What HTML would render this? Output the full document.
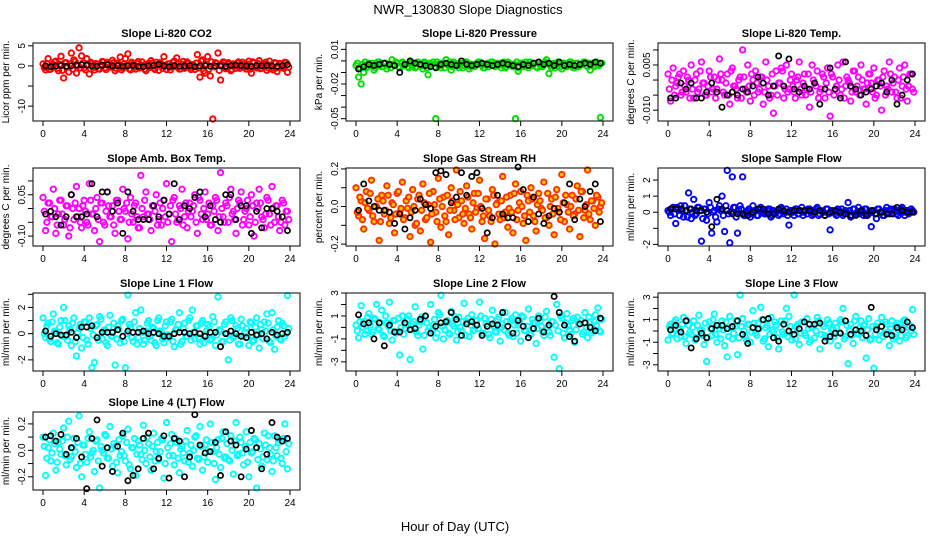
<!DOCTYPE html>
<html><head><meta charset="utf-8"><style>
body{margin:0;background:#fff}
svg{display:block;font-family:"Liberation Sans",sans-serif}
</style></head><body>
<svg id="chart" width="936" height="540" viewBox="0 0 936 540" xmlns="http://www.w3.org/2000/svg">
<text x="468" y="14" text-anchor="middle" font-size="13">NWR_130830  Slope Diagnostics</text>
<text x="455" y="531" text-anchor="middle" font-size="13">Hour of Day (UTC)</text>
</svg>
<script>
const hourTicks=[0,4,8,12,16,20,24];
const co2Raw=[0.5,-1,1.8,-0.8,0.3,1.2,-1.2,2.4,-3,0.8,-1.5,3.2,1.5,-1.8,4.5,2.5,-0.5,1.8,-2,0.6,-1,0.4,-0.8,1.1,-0.5,0.9,-0.3,1.4,-1.2,0.7,2.2,-0.6,1.8,3,-1,0.5,-0.8,1.1,-0.4,0.2,-1.2,0.6,1.3,-0.5,0.9,-1.1,0.4,2.3,-0.9,0.5,-0.3,1.2,2,-0.8,0.4,-0.6,1.0,-0.4,0.3,-0.9,2.8,-2.8,1.5,-1.8,2.3,-2.5,-13.2,0.8,3.2,-3.5,1.0,-0.7,0.8,-1.2,0.5,-0.6,1.0,-0.4,0.4,-0.8,1.2,-1.8,0.8,-0.5,1.3,-0.6,0.4,-1.1,1.2,-0.5,0.8,-1.4,0.6,-0.3,0.9,-1.6];
const co2Core=[-0.4,0.6,-0.9,0.2,1.0,-0.6,0.4,-1.1,0.8,-0.3,0.5,-0.8,1.1,0.1,-0.5,0.7,-1.0,0.3,0.9,-0.4,0.6,-0.7,0.2,1.0,-0.9,0.4,-0.2,0.8,-0.6,0.3,-1.0,0.5,0.1,-0.7,0.9,-0.3,0.6,-0.5,1.0,-0.8,0.2,-0.4,0.7,-0.9,0.3,0.8,-0.6,0.1,0.5,-1.0,0.9,-0.2,0.4,-0.7,1.1,-0.3,0.6,-0.9,0.2,0.7,-0.5,1.2,-1.3,0.4,-0.8,1.0,-0.2,0.6,-1.1,0.3,0.8,-0.4,0.5,-0.9,0.1,0.7,-0.6,0.9,-0.3,0.4,-0.8,1.0,-0.2,0.6,-0.7,0.3,0.9,-0.5,0.2,-1.0,0.7,-0.4,0.5,-0.6,0.8,-0.3];
const co2Avg=[0,-0.2,0,0.1,-0.1,0,0.2,0.3,0.2,0,-0.1,0.2,0.3,0,0.1,-0.1,0,0.1,-0.1,-0.2,0,0.1,0.4,0,-0.2,0.1,-0.1,0,0.1,-0.2,0,0.1,-0.1,0,0,-0.1,0.1,0.2,0.1,0,-0.1,0.1,0,0.1,0,-0.1,0.1,0.3];
const presRaw=[-4,-14,-20,-10,-6,-2,-4,-8,-3,-1,-5,-2,-7,-3,1,-4,-2,-6,-1,-3,-5,-2,-4,-6,-1,-3,-7,-2,-12,-4,-1,-50,-3,-6,-2,1,-4,-8,-1,-3,-6,-2,-4,-1,-7,-3,-5,-2,-1,-4,-6,-2,-3,-1,-5,-3,-2,-4,-6,-1,-3,-5,-50,-9,-2,-4,-1,-6,-3,-2,-5,-1,-4,-3,1,-11,-6,-2,-4,-3,-7,-2,-5,-1,-3,-6,-2,-4,-3,-1,-5,-8,-2,-4,-3,-49];
const presCore=[-2,-6,-3,-1,-5,-4,-2,-6,-1,-3,-5,-2,-4,-6,-3,-1,-5,-2,-4,-3,-6,-1,-2,-5,-3,-4,-1,-6,-2,-3,-5,-1,-4,-2,-6,-3,-1,-5,-2,-4,-3,-6,-1,-2,-5,-3,-4,-1,-2,-6,-3,-5,-1,-4,-2,-3,-6,-1,-5,-2,-4,-3,-1,-6,-2,-5,-3,-1,-4,-2,-6,-3,-5,-1,-2,-4,-3,-6,-1,-5,-2,-3,-4,-1,-6,-2,-5,-3,-1,-4,-2,-3,-5,-1,-4,-2];
const presAvg=[-7,-5,-3,-4,-3,-2,-3,-4,-10,-3,0,-2,-3,-4,-5,-6,-3,-2,-3,-4,0,-3,-4,-3,-2,-3,-4,-3,-2,-3,-4,-5,-3,-4,-2,-1,-3,-2,-4,-1,-4,-3,-4,-3,-2,-3,-1,-2];
const tempRaw=[2,-7,4,-2,1,-5,3,-4,0,5,-6,2,-3,6,-1,-5,3,-4,1,-3,7,0,-5,2,-8,4,-2,-6,1,10,-3,5,-7,0,3,-4,1,-8,6,-2,-5,-11,3,-1,4,-6,5,-3,2,-4,0,6,-5,2,-3,-9,5,-1,3,-4,2,-6,4,-12,1,-3,5,-5,6,-2,0,-7,3,-4,1,5,-3,-8,2,-1,4,-5,0,-10,3,-2,6,-4,1,-6,4,-2,5,-7,2,-3];
const tempCore=[-3,0,-5,-1,2,-4,-2,1,-6,-3,0,-4,3,-1,-5,-2,1,-3,-6,0,2,-4,-1,-5,3,-2,-3,0,-6,1,-4,-2,2,-5,-1,-3,1,-4,0,-6,2,-2,-5,-1,3,-3,-4,0,-2,-6,1,-3,-1,-5,2,-4,0,-2,-6,-3,1,-1,-4,2,-5,-2,0,-3,-6,1,-1,-4,3,-2,-5,0,-3,-1,2,-4,-6,0,-2,1,-5,-3,2,-1,-4,0,-6,1,-3,-2,2,-4];
const tempAvg=[-6,-6,-1,-3,-1,-6,-6,-4,-1,-4,-9,-5,-4,-5,-3,-4,-2,1,-1,-5,-2,8,-2,7,-3,-4,-2,-3,-1,-8,-3,4,-3,-6,6,-2,-3,-5,-4,-3,-2,-1,-4,0,-8,-5,0,2];
const ambRaw=[4,-8,2,-3,7,-9,-2,3,-6,1,-10,5,-4,8,0,-7,3,-5,9,-2,-8,4,-12,2,-6,6,-3,1,-9,3,-4,7,-1,-11,4,-5,2,-7,12,-3,6,-2,-8,1,5,-4,-6,3,9,-2,-12,4,-5,1,7,-3,-7,2,-1,5,-9,3,-4,6,-2,-6,1,4,-8,13,-3,2,-5,7,-1,-9,3,6,-4,0,-6,5,-10,2,7,-3,-7,4,-2,8,-5,1,-8,3,-6,-1];
const ambCore=[-1,-5,2,-3,0,-6,3,-2,-4,1,-7,0,2,-3,-5,1,-1,-6,3,-2,0,-4,2,-5,-1,1,-3,-6,3,-1,-4,0,2,-5,-2,1,-3,-7,0,3,-2,-4,1,-1,-6,2,0,-3,-5,1,3,-2,-4,0,-6,2,-1,-3,1,-5,4,-2,0,-4,2,-6,-1,3,-3,0,-5,1,4,-2,-4,0,2,-6,-1,3,-3,1,-5,0,2,-4,-2,3,-6,0,1,-3,-5,2,-1,-4];
const ambAvg=[-2,-1,-3,-6,-3,5,-3,-3,-2,9,-3,6,6,-1,2,-9,6,-1,-4,-4,-4,1,-3,3,-2,9,-4,1,0,4,6,-3,1,-4,-5,5,5,-4,1,1,-9,-1,-7,0,0,-1,-3,-8];
const rhRaw=[10,-5,3,-12,8,-2,14,-8,0,-18,6,-4,11,-9,2,-14,7,-3,13,-6,-1,-16,9,-10,4,-13,12,-7,1,-19,8,-3,15,-11,5,-8,-15,10,-2,20,-6,3,-9,11,-4,-12,7,-1,14,-8,-17,4,-5,9,-20,2,-7,16,-3,-11,6,-14,12,-2,8,-9,-18,3,10,-5,-13,7,-1,13,-6,-10,4,-15,9,-3,17,-8,1,-12,6,-4,11,-16,8,-2,21,-7,3,-10,5,0];
const rhCore=[-3,5,-7,2,-1,7,-5,0,4,-8,3,-2,6,-6,1,-4,8,-1,-7,3,5,-3,0,-9,6,-2,2,-6,7,-4,1,-8,4,0,-5,6,-2,3,-7,1,8,-4,-1,5,-6,2,-3,7,0,-5,4,-2,-8,6,1,-4,3,-6,5,-1,-3,7,-7,2,0,-5,6,-3,4,-8,1,3,-2,-6,7,0,-4,5,-1,-7,2,6,-3,0,-5,4,-2,8,-6,1,-4,3,-1,6,-3,2];
const rhAvg=[-2,12,3,0,-2,-2,-3,-9,-4,-12,-6,-2,4,1,-1,18,19,17,2,5,18,6,16,18,-1,-14,-6,6,-4,-6,-6,21,9,-8,5,-4,-9,-5,-1,-3,2,12,-7,4,0,8,12,-8];
const sampleRaw=[0.1,-0.2,0.3,-0.7,0.2,0.4,-0.3,0.1,1.2,-0.4,0.8,-0.1,0.3,-1.8,0.2,-0.5,0.6,-1.3,0.1,-0.6,0.4,1.0,-1.2,2.6,-1.9,2.2,0.3,-1.3,0.4,2.2,-0.2,0.1,-0.3,0.4,0.1,-0.2,0.3,0.0,-0.1,0.2,-0.3,0.1,0.0,-0.2,0.3,-0.1,0.2,-0.8,0.1,-0.2,0.2,-0.1,0.3,0.0,-0.1,0.2,-0.2,0.1,0.3,-0.1,0.0,-0.2,0.2,-1.1,0.1,-0.1,0.2,0.0,-0.2,0.1,0.6,-0.3,0.2,-0.1,0.3,0.0,-0.2,0.2,-0.1,-0.9,0.1,-0.4,0.2,0.0,-0.2,0.3,-0.1,0.1,0.2,-0.1,0.0,0.3,-0.2,0.1,0.0,0.1];
const sampleCore=[0.0,0.2,-0.1,0.3,-0.2,0.1,0.4,-0.3,0.2,0.0,-0.2,0.3,0.1,-0.4,0.2,-0.1,0.3,0.0,-0.3,0.2,0.1,-0.2,0.4,-0.1,0.0,0.3,-0.3,0.1,0.2,-0.2,0.0,0.2,-0.1,0.1,-0.2,0.2,0.0,-0.1,0.1,0.2,-0.2,0.0,0.1,-0.1,0.2,0.0,-0.2,0.1,0.0,0.2,-0.1,0.1,-0.2,0.1,0.2,0.0,-0.1,0.2,-0.2,0.1,0.0,0.2,-0.1,0.1,0.0,-0.2,0.1,0.2,-0.1,0.0,0.1,-0.2,0.2,0.0,-0.1,0.1,0.2,-0.2,0.0,0.1,-0.1,0.2,0.0,-0.2,0.1,0.0,0.2,-0.1,0.1,-0.2,0.2,0.0,0.1,-0.1,0.2,0.0];
const sampleAvg=[0.2,0.2,0.2,0.1,0.2,0.1,0.1,0,-0.9,0.8,0.2,0.1,-0.1,-0.1,-0.1,-0.2,0,0.2,0.2,-0.1,-0.1,0.2,0.1,0,0.1,0.1,0.1,0.1,0,0.1,-0.2,0,0.1,0,-0.1,-0.2,-0.2,0.1,-0.2,0.1,-0.1,0,-0.1,-0.1,0.3,0.1,0,0];
const line1Raw=[1.2,-0.3,0.8,-0.6,1.5,0.2,-0.8,1.0,2.0,-0.2,0.6,-0.9,1.2,-1.7,0.4,-1.1,0.9,-0.5,1.2,-2.6,-2.2,0.7,1.3,-0.4,0.3,-0.9,1.4,-0.2,-2.4,0.6,-0.7,1.1,-2.6,3.2,0.5,-0.6,1.6,-0.3,1.8,-0.8,0.2,1.0,-0.5,0.4,-0.9,1.2,0.1,-0.7,0.9,-0.3,1.1,-1.0,0.3,1.6,-0.6,0.8,-0.2,1.2,1.8,-0.4,0.6,-0.8,1.0,-0.1,0.7,-0.5,1.3,-0.9,2.8,0.2,-0.6,0.9,-2.0,1.2,-0.3,0.6,-0.8,1.1,-0.2,0.4,-0.9,0.8,-0.5,1.2,-1.1,0.3,0.9,1.5,-0.6,1.6,-1.2,0.5,-0.4,0.8,-0.2,2.9];
const line1Core=[0.0,0.6,-0.4,0.9,0.2,-0.7,0.5,-0.2,1.0,-0.5,0.3,0.8,-0.6,0.1,0.7,-0.3,0.9,-0.8,0.4,-0.1,0.6,-0.5,1.1,0.2,-0.7,0.5,-0.2,0.8,-0.4,0.3,1.0,-0.6,0.0,0.7,-0.3,0.9,-0.8,0.4,0.1,-0.5,0.8,-0.2,0.5,-0.7,1.0,0.2,-0.4,0.6,-0.1,0.9,-0.6,0.3,0.7,-0.8,0.4,-0.2,1.0,-0.5,0.1,0.6,-0.3,0.8,-0.7,0.2,0.5,-0.4,0.9,-0.1,0.3,-0.6,0.7,0.0,-0.5,1.0,-0.2,0.4,-0.8,0.6,0.1,-0.3,0.9,-0.6,0.5,-0.1,0.7,-0.4,0.2,0.8,-0.7,0.3,-0.2,1.0,-0.5,0.6,0.0,0.4];
const line1Avg=[0.2,-0.2,0,-0.1,-0.1,0.1,-0.3,0.5,0.5,0.6,-0.3,0.1,0.1,0.1,0.3,-0.2,0.2,0.1,0.1,0.2,0,0.1,0,-0.2,-0.2,0,0.1,0.1,0,0.1,0,-0.2,0.1,0.1,-1,0,0.2,0,-0.2,-0.3,0.1,-0.1,0,-0.4,0.1,-0.1,0,0.1];
const line2Raw=[0.2,-0.9,1.9,0.5,-0.3,1.2,-0.6,0.8,2.0,-0.2,1.5,-0.8,0.4,2.2,-1.1,0.6,-0.4,-2.4,1.0,-0.1,0.7,-2.8,0.3,1.8,-0.7,0.5,-1.9,1.0,-0.3,2.0,0.2,-0.9,1.3,2.8,-1.0,0.4,-0.5,1.4,0.1,-1.1,0.9,-0.3,2.1,0.5,-0.8,1.1,-0.2,0.6,2.2,-0.6,0.8,0.1,-0.9,1.5,-0.4,0.7,-1.2,0.3,1.3,-0.5,0.6,-0.8,1.1,0.2,-1.2,0.9,-0.3,1.6,-0.6,0.4,-1.4,1.0,0.1,-0.7,1.4,-0.4,0.5,-2.6,2.0,-3.6,0.8,-0.9,1.2,-0.2,0.6,-1.3,0.9,0.3,-0.6,1.3,-0.9,0.5,-0.3,1.1,1.7,-0.4];
const line2Core=[-0.3,0.5,0.0,-0.6,0.9,0.2,-0.4,0.7,-0.1,0.4,-0.7,1.0,0.1,-0.3,0.6,-0.5,0.8,0.0,-0.6,0.3,1.0,-0.2,0.5,-0.4,0.2,0.9,-0.7,0.4,0.0,-0.3,0.7,-0.5,1.1,0.1,-0.2,0.6,-0.6,0.3,0.9,-0.4,0.0,0.5,-0.7,0.8,0.2,-0.3,0.6,-0.1,1.0,-0.5,0.3,-0.6,0.7,0.1,-0.4,0.9,0.0,-0.2,0.5,-0.7,0.8,0.2,-0.5,0.4,1.0,-0.3,0.1,-0.6,0.7,0.3,-0.1,0.6,-0.4,0.9,0.0,-0.7,0.5,0.2,-0.3,1.0,-0.5,0.4,0.1,-0.6,0.8,-0.2,0.3,0.6,-0.4,0.0,0.9,-0.5,0.5,0.2,-0.3,0.7];
const line2Avg=[1.1,0.3,0.4,-1,0.4,-1.6,0.2,-0.4,-0.4,0.4,-0.2,-0.1,0.7,1.0,-0.5,0.1,0.4,0.5,1.3,0.7,-0.7,0.3,0.5,0.2,-0.7,0.1,0.3,0.2,1.3,0.1,-0.5,0.6,0.1,-0.9,-0.1,0.8,-0.4,0.2,2.7,1.3,0.2,-0.8,-1.2,0.3,0.4,0,-0.3,0.8];
const line3Raw=[-0.8,0.6,-0.2,1.0,0.3,-0.5,1.2,-1.1,0.5,-0.3,0.9,-0.6,1.4,0.1,-1.2,-2.7,0.8,-0.4,1.5,-1.0,0.2,0.9,-1.3,-2.3,1.3,-0.7,0.4,-2.1,3.2,1.1,-0.5,0.6,-1.0,1.8,-0.2,0.7,2.1,-0.9,0.3,-1.4,1.2,-0.1,0.5,-1.6,0.9,-0.3,2.0,1.3,-0.8,3.3,0.4,-1.2,0.8,-0.2,1.1,-1.0,0.3,-0.6,1.2,-1.6,0.6,-0.4,1.0,-0.9,0.2,0.7,-1.3,1.0,2.0,-0.5,-2.9,0.6,-1.1,1.3,-0.3,0.9,0.5,-2.4,1.1,-0.7,-3.3,0.4,-0.8,1.2,-0.2,0.6,-1.3,0.9,-0.5,0.7,-0.9,0.3,1.0,-0.4,0.5,1.9];
const line3Core=[0.4,-0.3,0.8,-0.7,0.1,0.6,-0.5,0.9,-0.1,0.3,-0.8,0.5,0.0,-0.4,0.7,-0.6,0.2,1.0,-0.3,0.5,-0.7,0.1,0.8,-0.5,0.3,-0.2,0.9,-0.6,0.4,0.0,-0.8,0.6,-0.1,0.7,-0.4,0.2,1.0,-0.7,0.5,-0.3,0.1,0.8,-0.6,0.3,-0.1,0.9,-0.5,0.4,0.0,-0.7,0.6,-0.2,0.8,-0.4,0.2,-0.8,0.5,0.0,0.9,-0.3,0.4,-0.6,0.7,0.1,-0.5,0.3,-0.1,0.8,-0.7,0.5,0.0,-0.4,0.9,-0.2,0.3,-0.6,0.6,0.1,-0.8,0.4,-0.3,0.7,0.0,-0.5,0.8,-0.1,0.2,-0.7,0.5,0.1,-0.4,0.9,-0.6,0.3,0.0,-0.3];
const line3Avg=[0.1,0.5,-0.1,0.9,-1.5,-0.7,-0.2,-0.6,0.2,0.5,0.5,0.2,0.4,0.9,-0.3,-1.1,0.3,0.2,1.0,1.1,-0.6,-0.9,0.6,0,-0.3,0.2,0.8,0.6,0.6,0.7,-0.9,-0.5,-0.2,-0.2,0.9,-0.3,0.1,0,-0.4,2.1,0.1,0.4,-0.3,-0.4,0.3,0.1,0.8,0.3];
const line4Raw=[10,-19,2,-8,13,-15,6,-3,17,-11,22,-5,9,-13,26,-20,4,-9,14,-2,-16,8,-29,0,12,-6,18,-12,3,-17,-4,11,-8,16,-14,2,-19,7,-3,19,-10,5,-15,13,-1,-7,9,-21,21,-4,12,-11,6,-17,3,-8,15,-2,-12,10,-6,18,-15,4,-9,20,-1,-22,8,-13,14,-5,-7,11,-18,21,-3,6,-11,14,-20,-2,9,-30,5,-12,13,-7,2,-16,11,-4,8,-10,20,-14];
const line4Core=[3,-6,8,-2,5,-9,1,7,-4,10,-7,2,-1,6,-10,4,-3,9,-5,0,7,-8,3,-2,11,-6,1,5,-9,8,-1,-4,6,-11,2,9,-3,4,-7,0,10,-5,3,-8,6,-1,8,-10,2,5,-4,9,-6,1,-2,7,-9,4,0,11,-7,3,-5,8,-1,6,-10,2,-3,9,-6,5,-8,0,7,-4,10,-2,3,-9,6,-1,8,-7,1,-5,4,11,-3,-8,2,6,-6,9,-1,5];
const line4Avg=[10,11,7,12,-3,2,9,-5,-29,9,23,-12,2,-16,3,13,-23,-19,-14,9,13,-14,-6,11,-21,9,7,-20,-5,27,4,-2,-1,6,-19,14,7,4,-20,1,15,2,-14,-3,21,10,7,9];

const NS="http://www.w3.org/2000/svg";
const svg=document.getElementById('chart');
function mk(tag,attrs,parent){const e=document.createElementNS(NS,tag);for(const k in attrs)e.setAttribute(k,attrs[k]);(parent||svg).appendChild(e);return e;}
const colLeft=[33,346,658], rowTop=[43,168,293,412], W=267, H=78;
const panels=[
 {id:'co2',title:'Slope Li-820 CO2',ylab:'Licor ppm per min.',c:0,r:0,y0:-13.7,y1:5.7,u:1,raw:co2Raw,core:co2Core,avg:co2Avg,col:'#ff0000',fill:'none',ticks:[5,0,-5,-10],labs:['5','0','','-10']},
 {id:'pressure',title:'Slope Li-820 Pressure',ylab:'kPa per min.',c:1,r:0,y0:-0.052,y1:0.0155,u:0.001,raw:presRaw,core:presCore,avg:presAvg,col:'#00dd00',fill:'none',ticks:[0.01,0,-0.01,-0.02,-0.03,-0.04,-0.05],labs:['0.01','','','-0.02','','','-0.05']},
 {id:'li820-temp',title:'Slope Li-820 Temp.',ylab:'degrees C per min.',c:2,r:0,y0:-0.0136,y1:0.0123,u:0.001,raw:tempRaw,core:tempCore,avg:tempAvg,col:'#ff00ff',fill:'none',ticks:[0.01,0.005,0,-0.005,-0.01],labs:['','0.005','','','-0.010']},
 {id:'amb-box-temp',title:'Slope Amb. Box Temp.',ylab:'degrees C per min.',c:0,r:1,y0:-0.136,y1:0.147,u:0.01,raw:ambRaw,core:ambCore,avg:ambAvg,col:'#ff00ff',fill:'none',ticks:[0.1,0.05,0,-0.05,-0.1],labs:['','0.05','','','-0.10']},
 {id:'gas-stream-rh',title:'Slope Gas Stream RH',ylab:'percent per min.',c:1,r:1,y0:-0.21,y1:0.205,u:0.01,raw:rhRaw,core:rhCore,avg:rhAvg,col:'#ff3000',fill:'#ffd000',ticks:[0.2,0.1,0,-0.1,-0.2],labs:['0.2','','0.0','','-0.2']},
 {id:'sample-flow',title:'Slope Sample Flow',ylab:'ml/min per min.',c:2,r:1,y0:-2.1,y1:2.75,u:1,raw:sampleRaw,core:sampleCore,avg:sampleAvg,col:'#0000ff',fill:'none',ticks:[2,1,0,-1,-2],labs:['2','1','0','','-2']},
 {id:'line1-flow',title:'Slope Line 1 Flow',ylab:'ml/min per min.',c:0,r:2,y0:-2.85,y1:3.1,u:1,raw:line1Raw,core:line1Core,avg:line1Avg,col:'#00ffff',fill:'none',ticks:[3,2,1,0,-1,-2],labs:['','2','','0','','-2']},
 {id:'line2-flow',title:'Slope Line 2 Flow',ylab:'ml/min per min.',c:1,r:2,y0:-3.8,y1:3.0,u:1,raw:line2Raw,core:line2Core,avg:line2Avg,col:'#00ffff',fill:'none',ticks:[3,2,1,0,-1,-2,-3],labs:['3','','1','','-1','','-3']},
 {id:'line3-flow',title:'Slope Line 3 Flow',ylab:'ml/min per min.',c:2,r:2,y0:-3.55,y1:3.37,u:1,raw:line3Raw,core:line3Core,avg:line3Avg,col:'#00ffff',fill:'none',ticks:[3,2,1,0,-1,-2,-3],labs:['3','','1','','-1','','-3']},
 {id:'line4-flow',title:'Slope Line 4 (LT) Flow',ylab:'ml/min per min.',c:0,r:3,y0:-0.30,y1:0.29,u:0.01,raw:line4Raw,core:line4Core,avg:line4Avg,col:'#00ffff',fill:'none',ticks:[0.2,0.1,0,-0.1,-0.2],labs:['0.2','','0.0','','-0.2']}
];
panels.forEach(p=>{
  const L=colLeft[p.c], T=rowTop[p.r];
  const g=mk('g',{});
  
  
  const xs=h=>L+10+h*(247/24);
  const ys=v=>T+H-(v-p.y0)/(p.y1-p.y0)*H;
  const t=mk('text',{x:L+W/2,y:T-6,'text-anchor':'middle','font-size':'11','font-weight':'bold'},g);t.textContent=p.title;
  
  
  const yl=mk('text',{transform:`translate(${L-24},${T+H/2}) rotate(-90)`,'text-anchor':'middle','font-size':'10'},g);yl.textContent=p.ylab;
  
  
  const pts=mk('g',{},g);
  
  
  const drawSet=(arr,off)=>{const n=arr.length;
    arr.forEach((v,i)=>{const yy=Math.max(T+2,Math.min(T+H-2,ys(v*p.u)));
      const c=mk('circle',{cx:xs((i+off)*24/n),cy:yy,r:2.7,fill:p.fill,stroke:p.col,'stroke-width':1.9},pts);
      
      });};
  drawSet(p.raw,0);
  drawSet(p.core,0.5);
  const ap=mk('g',{},g);
  
  
  const m=p.avg.length;
  p.avg.forEach((v,i)=>{
    const c=mk('circle',{cx:xs((i+0.5)*24/m),cy:ys(v*p.u),r:2.6,fill:'none',stroke:'#000','stroke-width':1.7},ap);
    
    });
  const box=mk('rect',{x:L,y:T,width:W,height:H,fill:'none',stroke:'#000','stroke-width':1},g);
  
  
  p.ticks.forEach((v,i)=>{const y=ys(v);mk('line',{x1:L-5,x2:L,y1:y,y2:y,stroke:'#000'},g);
    if(p.labs[i]){const tl=mk('text',{transform:`translate(${L-8},${y}) rotate(-90)`,'text-anchor':'middle','font-size':'10'},g);tl.textContent=p.labs[i];
      
      }});
  hourTicks.forEach(h=>{const x=xs(h);mk('line',{x1:x,x2:x,y1:T+H,y2:T+H+5,stroke:'#000'},g);
    const tl=mk('text',{x:x,y:T+H+16,'text-anchor':'middle','font-size':'10'},g);tl.textContent=h;
    
    });
});
</script>
</body></html>
